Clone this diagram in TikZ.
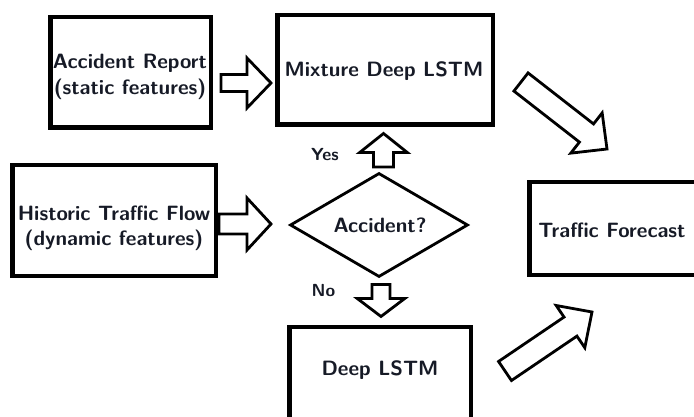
\documentclass[tikz,border=0pt]{standalone}
\usepackage{fontspec}
\usetikzlibrary{shapes.geometric,calc}

\definecolor{inkc}{RGB}{22,26,38}

% hollow block arrow: #1 tail, #2 tip, #3 half shaft width, #4 half head width, #5 head length
\newcommand{\fatarrow}[5]{%
  \coordinate (fa-b) at ($(#2)!#5!(#1)$);
  \draw[blockarrow]
    ($(#1)!#3!90:(#2)$) -- ($(fa-b)!#3!90:(#2)$) -- ($(fa-b)!#4!90:(#2)$)
    -- (#2)
    -- ($(fa-b)!#4!-90:(#2)$) -- ($(fa-b)!#3!-90:(#2)$) -- ($(#1)!#3!-90:(#2)$)
    -- cycle;
}

\tikzset{
  box/.style={draw=black, line width=4.5pt, fill=white, inner sep=0pt},
  lbl/.style={text=inkc, font=\fontsize{20.7}{25.5}\selectfont\sffamily\bfseries,
              align=center, inner sep=0pt},
  small/.style={text=inkc, font=\fontsize{17.5}{20}\selectfont\sffamily\bfseries,
              inner sep=0pt},
  blockarrow/.style={draw=black, line width=2.8pt, fill=white, line join=miter},
  decision/.style={diamond, draw=black, line width=2.8pt, aspect=1.7,
                   minimum width=178pt, minimum height=104pt, inner sep=0pt}
}

\begin{document}
\begin{tikzpicture}[x=1pt, y=-1pt]
  \useasboundingbox (0,0) rectangle (694,417);
  \clip (0,0) rectangle (694,417);
  \fill[white] (0,0) rectangle (694,417);

  % boxes
  \node[box, minimum width=160.5pt, minimum height=110.5pt] (ar)  at (130.5,72.5) {};
  \node[box, minimum width=215.5pt, minimum height=109.5pt] (mix) at (385,70) {};
  \node[box, minimum width=203.5pt, minimum height=110.5pt] (htf) at (114,220.5) {};
  \node[box, minimum width=181.5pt, minimum height=92.5pt]  (tf)  at (620,228.5) {};
  \node[box, minimum width=181.5pt, minimum height=102.75pt] (dl) at (380,378.6) {};
  \node[decision] (acc) at (379,225) {};

  % texts
  \node[lbl] (ar-t)  at (130,77)    {Accident Report\\(static features)};
  \node[lbl] (mix-t) at (384,71)    {Mixture Deep LSTM};
  \node[lbl] (htf-t) at (114,228.5) {Historic Traffic Flow\\(dynamic features)};
  \node[lbl] (acc-t) at (380,225)   {Accident?};
  \node[lbl] (tf-t)  at (612,230)   {Traffic Forecast};
  \node[lbl] (dl-t)  at (380,370)   {Deep LSTM};
  \node[small] (yes) at (325,155) {Yes};
  \node[small] (no)  at (323.5,291) {No};

  % arrow ends
  \coordinate (a1s) at ($(ar.east)+(8,10.5)$);
  \coordinate (a1e) at ($(mix.west)+(-4,13)$);
  \coordinate (a2s) at ($(htf.east)+(1,3.5)$);
  \coordinate (a2e) at (271,224);
  \coordinate (yup-s) at ($(acc.north)+(4.5,-4.5)$);
  \coordinate (yup-e) at (383.5,133.5);
  \coordinate (ndn-s) at (381,284.5);
  \coordinate (ndn-e) at ($(dl.north)+(1,-8.5)$);
  \coordinate (d1s) at (521,82);
  \coordinate (d1e) at (607,149);
  \coordinate (d2s) at (505,371);
  \coordinate (d2e) at (592,312);

  % block arrows
  \fatarrow{a1s}{a1e}{8.5pt}{25pt}{24pt}
  \fatarrow{a2s}{a2e}{10pt}{26pt}{24pt}
  \fatarrow{yup-s}{yup-e}{10pt}{23.8pt}{19pt}
  \fatarrow{ndn-s}{ndn-e}{9pt}{23.8pt}{18pt}
  \fatarrow{d1s}{d1e}{11.5pt}{25.5pt}{26pt}
  \fatarrow{d2s}{d2e}{11.5pt}{25.5pt}{26pt}
\end{tikzpicture}
\end{document}
